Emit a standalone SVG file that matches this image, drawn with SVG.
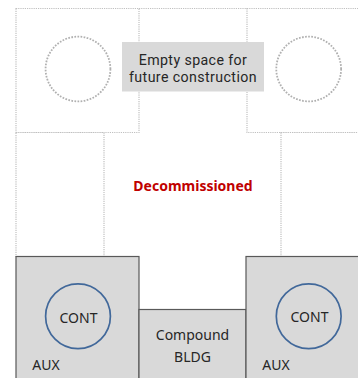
<svg xmlns="http://www.w3.org/2000/svg" width="358" height="378" viewBox="0 0 358 378">
<style>
text{font-family:"Noto Sans","Open Sans","Liberation Sans",sans-serif;font-size:14px;fill:#262626;text-anchor:middle}
.tight{font-family:Roboto,"Noto Sans",sans-serif;font-size:14.200px;letter-spacing:.4px}
.dot{fill:#fff;stroke:#c0c0c0;stroke-width:1.2;stroke-dasharray:1.2 1}
.ring{fill:none;stroke:#b0b0b0;stroke-width:1.8;stroke-dasharray:1.7 1.4}
.solid{fill:#d9d9d9;stroke:#595959;stroke-width:1.2}
.cont{fill:none;stroke:#41689a;stroke-width:1.7}
</style>
<rect width="358" height="378" fill="#fff"/>
<g id="future-site">
<path class="dot" d="M139 8.500H247"/>
<rect class="dot" x="16" y="8.500" width="123" height="124"/>
<rect class="dot" x="247" y="8.500" width="113" height="124"/>
<circle class="ring" cx="78" cy="69" r="32.400"/>
<circle class="ring" cx="308.700" cy="69" r="32.400"/>
</g>
<g id="decommissioned-left"><rect class="dot" x="16" y="132.500" width="88" height="124"/></g>
<g id="decommissioned-right"><rect class="dot" x="281" y="132.500" width="79" height="124"/></g>
<g id="empty-label">
<rect x="122" y="42" width="142" height="49.500" fill="#d9d9d9"/>
<text class="tight" x="193" y="65">Empty space for</text>
<text class="tight" x="193" y="82">future construction</text>
</g>
<g id="decommissioned-label"><text x="193" y="191" style="fill:#c00000;font-weight:700">Decommissioned</text></g>
<g id="aux-left">
<rect class="solid" x="16" y="256.500" width="123" height="125"/>
<circle class="cont" cx="78" cy="316.300" r="32.400"/>
<text x="78.500" y="323">CONT</text>
<text x="46" y="370">AUX</text>
</g>
<g id="compound">
<rect class="solid" x="139" y="309.500" width="107" height="72"/>
<text x="192.500" y="340">Compound</text>
<text x="192.500" y="362">BLDG</text>
</g>
<g id="aux-right">
<rect class="solid" x="246" y="256.500" width="114" height="125"/>
<circle class="cont" cx="308.700" cy="316.300" r="32.400"/>
<text x="309.500" y="322">CONT</text>
<text x="276" y="370">AUX</text>
</g>
</svg>
